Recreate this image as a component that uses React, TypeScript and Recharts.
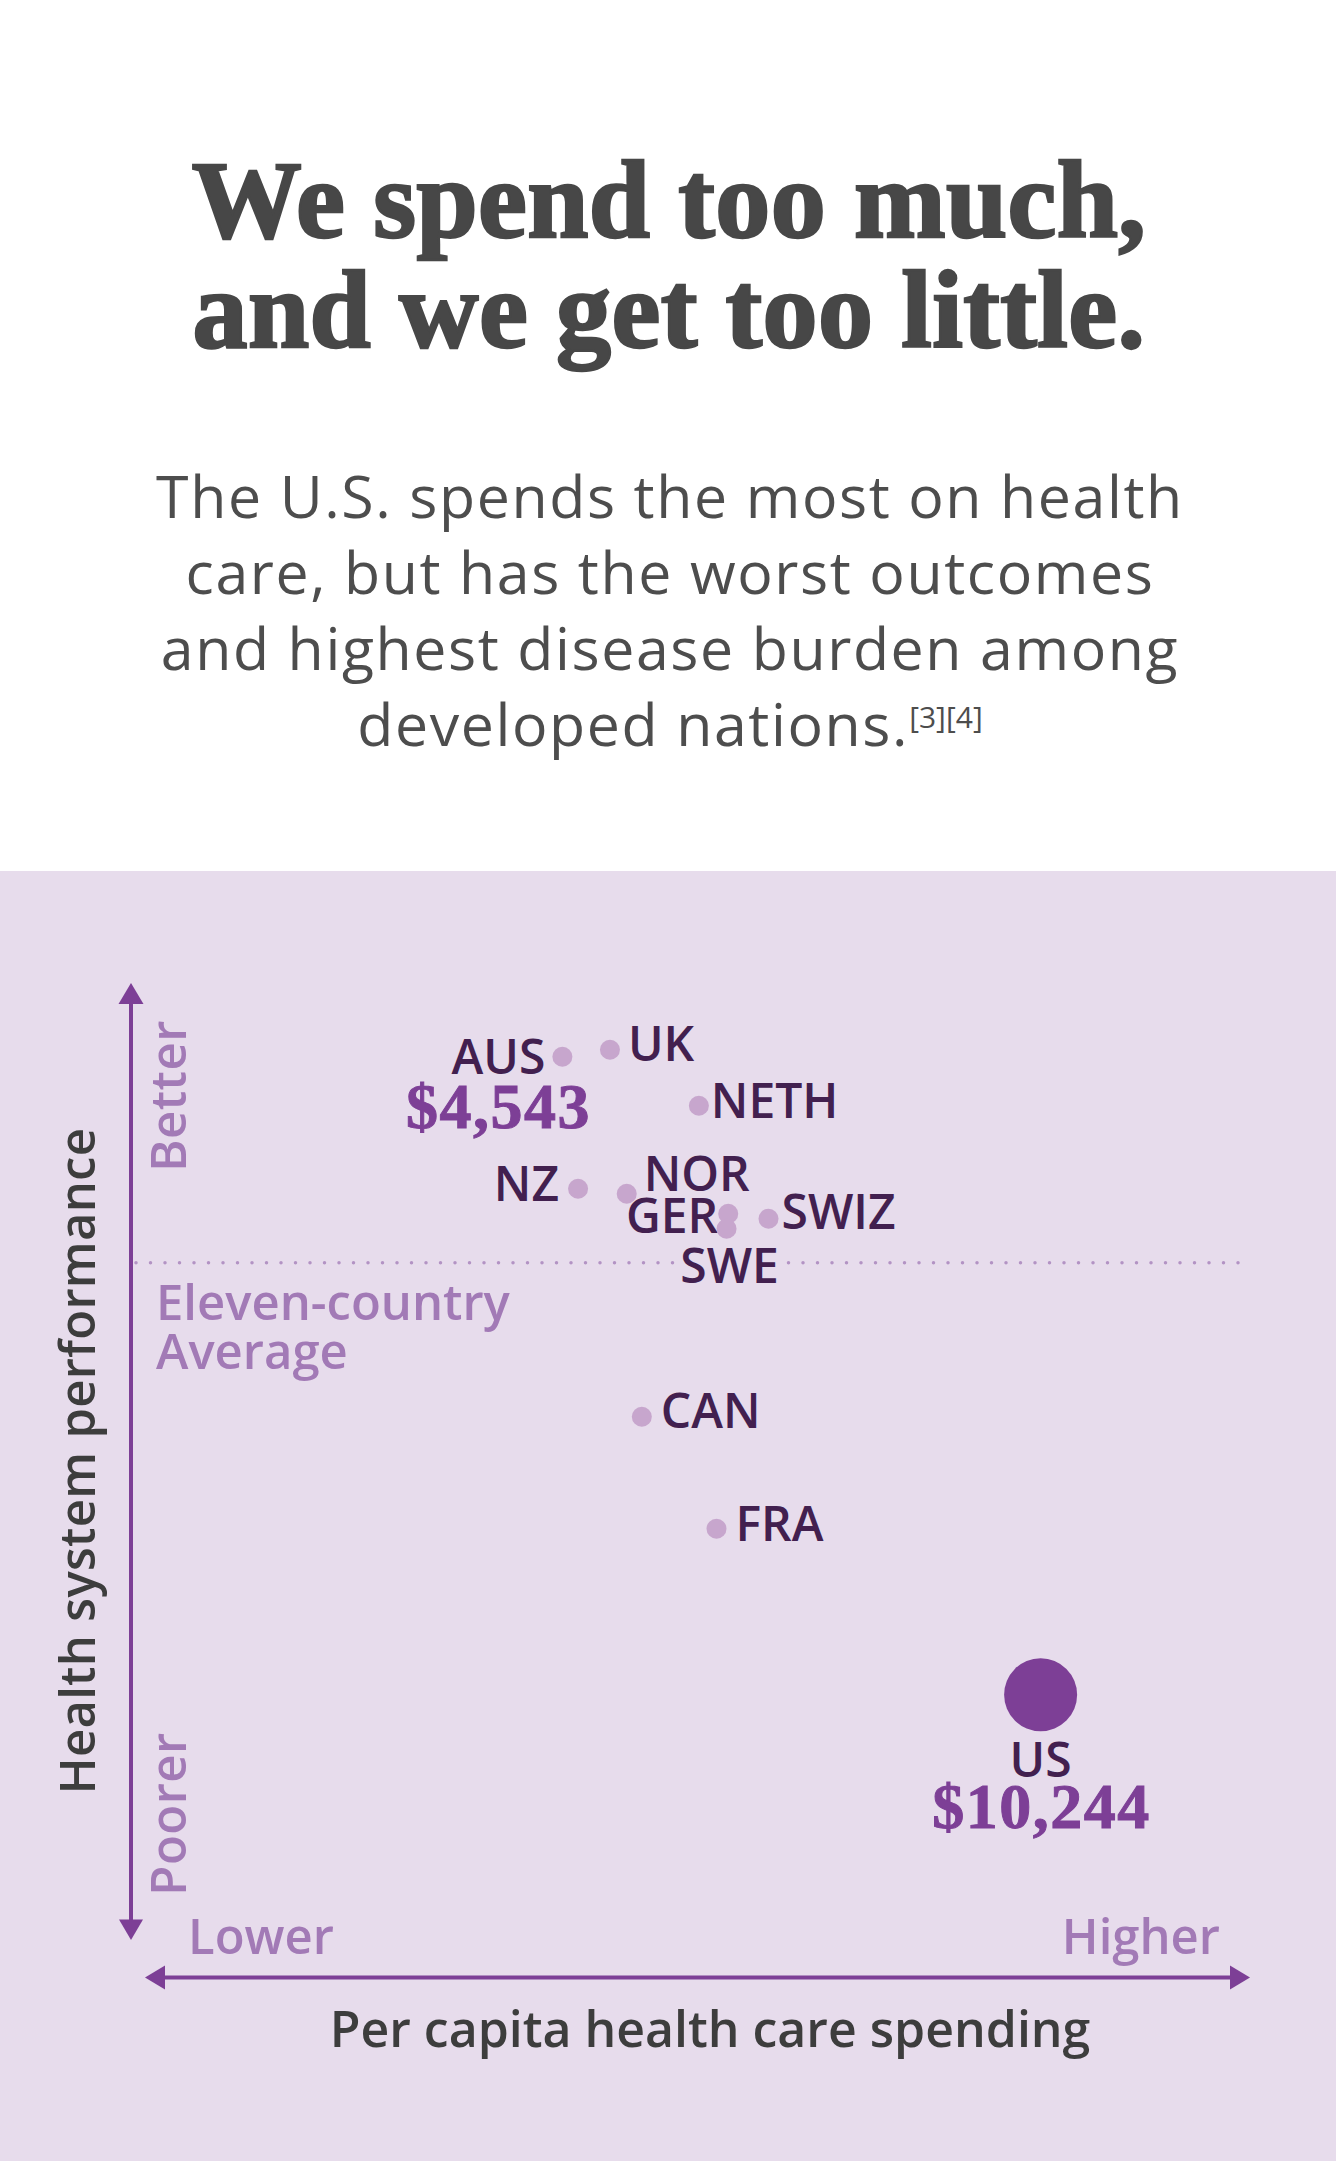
import { ReferenceLine, Scatter, ScatterChart, XAxis, YAxis } from "recharts";

// per capita spending (US$) and health system performance relative to the 11-country average
const countries = ["AUS", "UK", "NETH", "NZ", "NOR", "GER", "SWE", "SWIZ", "CAN", "FRA", "US"];
const spending = [4543, 5110, 6170, 4730, 5310, 6520, 6500, 7000, 5490, 6380, 10244];
const performance = [0.206, 0.213, 0.157, 0.074, 0.069, 0.049, 0.034, 0.044, -0.154, -0.266, -0.432];
const priceTags: Record<string, string> = { AUS: "$4,543", US: "$10,244" };
const average = 0;

const titleLines = ["We spend too much,", "and we get too little."];
const subtitleLines = [
  "The U.S. spends the most on health",
  "care, but has the worst outcomes",
  "and highest disease burden among",
  "developed nations.",
];
const footnote = "[3][4]";

const PANEL = "#e7dcec";
const ARROW = "#7d3f96";
const DOT = "#c7a6cd";
const LABEL = "#42204f";
const SOFT = "#a27ab6";
const INK = "#474747";
const SANS = "'Open Sans', sans-serif";
const SERIF = "'Liberation Serif', serif";

type Place = {
  anchor: "start" | "middle" | "end";
  dx: number;
  dy: number;
  halo?: boolean;
  tagDx?: number;
  tagDy?: number;
};

// where each country's name sits relative to its dot
const placement: Record<string, Place> = {
  AUS: { anchor: "end", dx: -17, dy: 17, tagDx: -64, tagDy: 71 },
  UK: { anchor: "start", dx: 18, dy: 11 },
  NETH: { anchor: "start", dx: 12, dy: 12 },
  NZ: { anchor: "end", dx: -19, dy: 12 },
  NOR: { anchor: "start", dx: 17, dy: -3 },
  GER: { anchor: "end", dx: -10, dy: 19 },
  SWE: { anchor: "middle", dx: 3, dy: 54, halo: true },
  SWIZ: { anchor: "start", dx: 13, dy: 10 },
  CAN: { anchor: "start", dx: 19, dy: 11 },
  FRA: { anchor: "start", dx: 19, dy: 12 },
  US: { anchor: "middle", dx: 0, dy: 82, tagDx: 1, tagDy: 133 },
};

const points = countries.map((name, i) => ({
  name,
  spend: spending[i],
  perf: performance[i],
  tag: priceTags[name],
}));

function CountryDot(props: any) {
  const { cx, cy, payload } = props;
  const big = payload.name === "US";
  const p = placement[payload.name];
  return (
    <g>
      <circle cx={cx} cy={cy} r={big ? 36.5 : 10} fill={big ? ARROW : DOT} />
      <text
        x={cx + p.dx}
        y={cy + p.dy}
        textAnchor={p.anchor}
        fontFamily={SANS}
        fontWeight={600}
        fontSize={48}
        fill={LABEL}
        stroke={p.halo ? PANEL : "none"}
        strokeWidth={p.halo ? 16 : 0}
        paintOrder="stroke"
      >
        {payload.name}
      </text>
      {payload.tag && (
        <text
          x={cx + (p.tagDx ?? 0)}
          y={cy + (p.tagDy ?? 0)}
          textAnchor="middle"
          fontFamily={SERIF}
          fontWeight={700}
          fontSize={64}
          letterSpacing={1.5}
          fill={ARROW}
          stroke={ARROW}
          strokeWidth={1}
        >
          {payload.tag}
        </text>
      )}
    </g>
  );
}

function Backdrop() {
  return (
    <svg width={1338} height={2161} style={{ position: "absolute", left: 0, top: 0 }}>
      <rect x={0} y={0} width={1338} height={2161} fill="#ffffff" />
      <rect x={0} y={871} width={1336} height={1290} fill={PANEL} />

      {titleLines.map((t, i) => (
        <text
          key={t}
          x={669}
          y={237 + i * 110}
          textAnchor="middle"
          fontFamily={SERIF}
          fontWeight={700}
          fontSize={110}
          letterSpacing={0.4}
          fill={INK}
          stroke={INK}
          strokeWidth={2.5}
        >
          {t}
        </text>
      ))}

      {subtitleLines.map((t, i) => (
        <text
          key={t}
          x={670}
          y={518 + i * 76}
          textAnchor="middle"
          fontFamily={SANS}
          fontSize={59}
          letterSpacing={1.6}
          fill="#4d4d4d"
        >
          {t}
          {i === subtitleLines.length - 1 && (
            <tspan fontSize={30} dy={-18} letterSpacing={0}>
              {footnote}
            </tspan>
          )}
        </text>
      ))}

      {/* vertical axis arrow */}
      <line x1={131} y1={1000} x2={131} y2={1922} stroke={ARROW} strokeWidth={4} />
      <polygon points="131,983 118.5,1004 143.5,1004" fill={ARROW} />
      <polygon points="131,1940 119,1919.5 143,1919.5" fill={ARROW} />

      {/* horizontal axis arrow */}
      <line x1={162} y1={1977.5} x2={1232} y2={1977.5} stroke={ARROW} strokeWidth={4} />
      <polygon points="145,1977.5 165,1965.5 165,1989.5" fill={ARROW} />
      <polygon points="1250,1977.5 1230,1965.5 1230,1989.5" fill={ARROW} />

      <text
        transform="translate(186,1096) rotate(-90)"
        textAnchor="middle"
        fontFamily={SANS}
        fontWeight={600}
        fontSize={49}
        letterSpacing={0.5}
        fill={SOFT}
      >
        Better
      </text>
      <text
        transform="translate(186,1814) rotate(-90)"
        textAnchor="middle"
        fontFamily={SANS}
        fontWeight={600}
        fontSize={49}
        letterSpacing={0.5}
        fill={SOFT}
      >
        Poorer
      </text>
      <text
        transform="translate(95,1461) rotate(-90)"
        textAnchor="middle"
        fontFamily={SANS}
        fontWeight={600}
        fontSize={49}
        letterSpacing={0.3}
        fill="#3d3d3d"
      >
        Health system performance
      </text>

      <text x={188} y={1954} fontFamily={SANS} fontWeight={600} fontSize={49} fill={SOFT}>
        Lower
      </text>
      <text x={1220} y={1954} textAnchor="end" fontFamily={SANS} fontWeight={600} fontSize={49} fill={SOFT}>
        Higher
      </text>

      <text x={156} y={1320} fontFamily={SANS} fontWeight={600} fontSize={49} fill={SOFT}>
        Eleven-country
      </text>
      <text x={156} y={1369} fontFamily={SANS} fontWeight={600} fontSize={49} fill={SOFT}>
        Average
      </text>

      <text
        x={710}
        y={2047}
        textAnchor="middle"
        fontFamily={SANS}
        fontWeight={600}
        fontSize={50}
        fill="#3d3d3d"
      >
        Per capita health care spending
      </text>
    </svg>
  );
}

export default function App() {
  return (
    <div style={{ position: "absolute", left: 0, top: 0, width: 1338, height: 2161 }}>
      <Backdrop />
      <div style={{ position: "absolute", left: 0, top: 0 }}>
        <ScatterChart
          width={1338}
          height={2161}
          margin={{ top: 984, right: 88, bottom: 221, left: 136 }}
        >
          <XAxis type="number" dataKey="spend" domain={[-540, 12740]} allowDataOverflow hide />
          <YAxis type="number" dataKey="perf" domain={[-0.6773, 0.2787]} allowDataOverflow hide />
          <ReferenceLine
            y={average}
            stroke="#b393c4"
            strokeWidth={3.5}
            strokeDasharray="0 14.5"
            strokeLinecap="round"
          />
          <Scatter data={points} shape={CountryDot} isAnimationActive={false} />
        </ScatterChart>
      </div>
    </div>
  );
}
